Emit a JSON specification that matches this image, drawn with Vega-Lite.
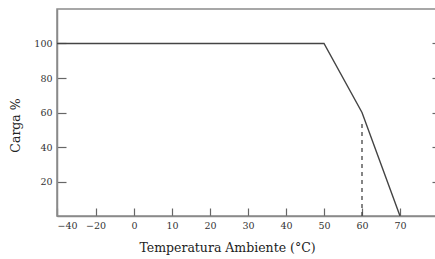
{
  "$schema": "https://vega.github.io/schema/vega-lite/v6.json",
  "width": 381,
  "height": 207,
  "autosize": {"type": "none"},
  "padding": {"left": 57, "top": 9, "right": 0, "bottom": 43},
  "background": "white",
  "config": {
    "view": {"stroke": "#8a8a8a", "strokeWidth": 1.5},
    "font": "DejaVu Serif",
    "axis": {
      "labelFont": "DejaVu Serif",
      "titleFont": "DejaVu Serif",
      "labelFontSize": 9.5,
      "titleFontSize": 12.5,
      "titleFontWeight": "normal",
      "labelColor": "#333",
      "titleColor": "#222",
      "domainColor": "#8a8a8a",
      "domainWidth": 1.5,
      "tickColor": "#666",
      "tickWidth": 1.2,
      "grid": false
    }
  },
  "resolve": {"axis": {"y": "independent"}},
  "layer": [
    {
      "data": {"values": [
        {"temp": -40, "carga": 100},
        {"temp": 50, "carga": 100},
        {"temp": 60, "carga": 60},
        {"temp": 70, "carga": 0}
      ]},
      "mark": {"type": "line", "color": "#444", "strokeWidth": 1.4, "clip": true},
      "encoding": {
        "x": {
          "field": "temp", "type": "quantitative",
          "scale": {"domain": [-40, 0, 80], "range": [0, 77, 381], "nice": false, "zero": false},
          "axis": {
            "values": [-40, -20, 0, 10, 20, 30, 40, 50, 60, 70],
            "title": "Temperatura Ambiente (°C)",
            "tickSize": -8,
            "labelPadding": 12,
            "titleX": 170,
            "titleY": 35,
            "titleBaseline": "alphabetic",
            "titleAnchor": "middle",
            "titleAlign": "center"
          }
        },
        "y": {
          "field": "carga", "type": "quantitative",
          "scale": {"domain": [0, 120], "nice": false},
          "axis": {
            "values": [20, 40, 60, 80, 100],
            "title": "Carga %",
            "tickSize": -9,
            "labelPadding": 14,
            "titleX": -42,
            "titleY": 116,
            "titleAlign": "center",
            "titleBaseline": "middle"
          }
        }
      }
    },
    {
      "data": {"values": [{"temp": 60, "lo": 0, "hi": 55}]},
      "mark": {"type": "rule", "color": "#444", "strokeWidth": 1.3, "strokeDash": [4, 4]},
      "encoding": {
        "x": {"field": "temp", "type": "quantitative"},
        "y": {
          "field": "lo", "type": "quantitative",
          "axis": {
            "orient": "right",
            "values": [20, 40, 60, 80, 100],
            "labels": false,
            "domain": false,
            "title": null,
            "tickSize": -6
          }
        },
        "y2": {"field": "hi"}
      }
    }
  ]
}
